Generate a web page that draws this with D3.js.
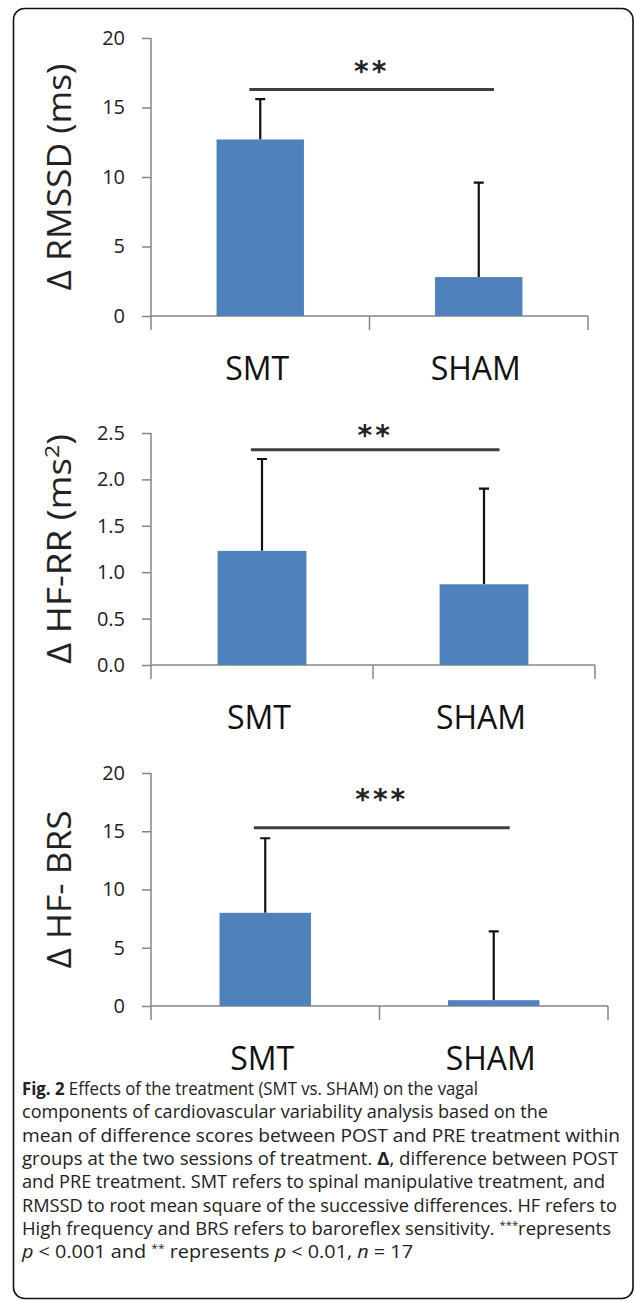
<!DOCTYPE html>
<html>
<head>
<meta charset="utf-8">
<script src="https://cdn.jsdelivr.net/npm/d3@7"></script>
<style>
  body { margin: 0; background: #fff; }
  svg { display: block; }
  .tick text { font-family: "Open Sans", sans-serif; }
</style>
</head>
<body>
<div id="chart"></div>
<script>
const groups = ["SMT", "SHAM"];

const rmssdMean = [12.7, 2.8];
const rmssdErr = [2.9, 6.8];
const hfrrMean = [1.23, 0.87];
const hfrrErr = [0.99, 1.03];
const brsMean = [8.0, 0.5];
const brsErr = [6.4, 5.9];

const rmssdTicks = [0, 5, 10, 15, 20];
const hfrrTicks = [0, 0.5, 1.0, 1.5, 2.0, 2.5];
const brsTicks = [0, 5, 10, 15, 20];

const stars = ["**", "**", "***"];
const sigLevel = [16.3, 2.32, 15.3];

const width = 634;
const height = 1301;

const svg = d3
  .select("#chart")
  .append("svg")
  .attr("width", width)
  .attr("height", height);

// rounded frame round the figure
svg
  .append("rect")
  .attr("x", 13.5)
  .attr("y", 8.5)
  .attr("width", 619.5)
  .attr("height", 1290)
  .attr("rx", 11)
  .attr("fill", "none")
  .attr("stroke", "#111")
  .attr("stroke-width", 1.6);

const panels = [
  {
    mean: rmssdMean, err: rmssdErr, ticks: rmssdTicks, max: 20, fmt: d3.format("d"),
    top: 38, bottom: 316, left: 151, right: 588,
    label: ["Δ RMSSD (ms)"], labelLen: 227, labelX: 60,
    star: stars[0], sig: sigLevel[0], starGap: 24,
  },
  {
    mean: hfrrMean, err: hfrrErr, ticks: hfrrTicks, max: 2.5, fmt: d3.format(".1f"),
    top: 433, bottom: 665, left: 151, right: 595,
    label: ["Δ HF-RR  (ms", "2", ")"], labelLen: 230, labelX: 60,
    star: stars[1], sig: sigLevel[1], starGap: 21,
  },
  {
    mean: brsMean, err: brsErr, ticks: brsTicks, max: 20, fmt: d3.format("d"),
    top: 773, bottom: 1006, left: 151, right: 608,
    label: ["Δ HF- BRS"], labelLen: 158, labelX: 60,
    star: stars[2], sig: sigLevel[2], starGap: 35,
  },
];

const barColor = "#4f81bd";
const axisColor = "#868686";

panels.forEach((p) => {
  const g = svg.append("g");

  const x = d3.scaleBand().domain(groups).range([p.left, p.right]);
  const y = d3.scaleLinear().domain([0, p.max]).range([p.bottom, p.top]);
  const bw = x.bandwidth();
  const barW = bw * 0.4;

  // y axis
  const yAxis = g
    .append("g")
    .attr("transform", `translate(${p.left},0)`)
    .call(d3.axisLeft(y).tickValues(p.ticks).tickFormat(p.fmt).tickSize(9).tickPadding(17));
  yAxis.select(".domain").remove();
  yAxis.selectAll(".tick line").attr("stroke", axisColor).attr("stroke-width", 1.5);
  yAxis
    .selectAll(".tick text")
    .attr("fill", "#222")
    .style("font-size", "20px");
  g.append("line")
    .attr("x1", p.left)
    .attr("x2", p.left)
    .attr("y1", p.top)
    .attr("y2", p.bottom + 14)
    .attr("stroke", axisColor)
    .attr("stroke-width", 1.5);

  // x axis
  g.append("line")
    .attr("x1", p.left)
    .attr("x2", p.right)
    .attr("y1", p.bottom)
    .attr("y2", p.bottom)
    .attr("stroke", axisColor)
    .attr("stroke-width", 1.5);
  g.selectAll(".xtick")
    .data(groups)
    .enter()
    .append("line")
    .attr("x1", (d) => x(d) + bw)
    .attr("x2", (d) => x(d) + bw)
    .attr("y1", p.bottom)
    .attr("y2", p.bottom + 14)
    .attr("stroke", axisColor)
    .attr("stroke-width", 1.5);

  g.selectAll(".xlabel")
    .data(groups)
    .enter()
    .append("text")
    .attr("x", (d) => x(d) + bw / 2 - 3)
    .attr("y", p.bottom + 64)
    .attr("text-anchor", "middle")
    .attr("font-family", "Open Sans, sans-serif")
    .attr("font-size", 32)
    .attr("fill", "#111")
    .text((d) => d);

  // error bars (upper only) drawn first, bar drawn on top
  g.selectAll(".err")
    .data(groups)
    .enter()
    .append("path")
    .attr("d", (d, i) => {
      const cx = x(d) + bw / 2;
      const y0 = y(p.mean[i]);
      const y1 = y(p.mean[i] + p.err[i]);
      return `M${cx},${y0}V${y1}M${cx - 5},${y1}H${cx + 5}`;
    })
    .attr("fill", "none")
    .attr("stroke", "#111")
    .attr("stroke-width", 2.2);

  g.selectAll(".bar")
    .data(groups)
    .enter()
    .append("rect")
    .attr("x", (d) => x(d) + (bw - barW) / 2)
    .attr("width", barW)
    .attr("y", (d, i) => y(p.mean[i]))
    .attr("height", (d, i) => y(0) - y(p.mean[i]))
    .attr("fill", barColor);

  // significance bar
  const sx1 = x(groups[0]) + bw * 0.45;
  const sx2 = x(groups[1]) + bw * 0.57;
  const sy = y(p.sig);
  g.append("line")
    .attr("x1", sx1)
    .attr("x2", sx2)
    .attr("y1", sy)
    .attr("y2", sy)
    .attr("stroke", "#404040")
    .attr("stroke-width", 3);
  g.append("text")
    .attr("x", (sx1 + sx2) / 2)
    .attr("y", sy - p.starGap + 16)
    .attr("text-anchor", "middle")
    .attr("font-family", "DejaVu Sans, sans-serif")
    .attr("font-weight", "bold")
    .attr("font-size", 28)
    .attr("letter-spacing", 3)
    .attr("fill", "#222")
    .text(p.star);

  // y label
  const lab = g
    .append("text")
    .attr("transform", `translate(${p.labelX},${(p.top + p.bottom) / 2}) rotate(-90)`)
    .attr("text-anchor", "middle")
    .attr("dy", "0.35em")
    .attr("font-family", "Open Sans, sans-serif")
    .attr("font-size", 32)
    .attr("fill", "#222");
  lab.append("tspan").text(p.label[0]);
  if (p.label.length > 1) {
    lab.append("tspan").attr("font-size", 20).attr("dy", -12).text(p.label[1]);
    lab.append("tspan").attr("dy", 12).text(p.label[2]);
  }
  lab.attr("textLength", p.labelLen).attr("lengthAdjust", "spacingAndGlyphs");
});

// caption
const captionLines = [
  [{ t: "Fig. 2", b: true }, { t: " Effects of the treatment (SMT vs. SHAM) on the vagal" }],
  [{ t: "components of cardiovascular variability analysis based on the" }],
  [{ t: "mean of difference scores between POST and PRE treatment within" }],
  [{ t: "groups at the two sessions of treatment. " }, { t: "Δ", b: true }, { t: ", difference between POST" }],
  [{ t: "and PRE treatment. SMT refers to spinal manipulative treatment, and" }],
  [{ t: "RMSSD to root mean square of the successive differences. HF refers to" }],
  [{ t: "High frequency and BRS refers to baroreflex sensitivity. " }, { t: "***", sup: true }, { t: "represents" }],
  [{ t: "p", i: true }, { t: " < 0.001 and " }, { t: "**", sup: true }, { t: " represents " }, { t: "p", i: true }, { t: " < 0.01, " }, { t: "n", i: true }, { t: " = 17" }],
];
// line lengths as set in the reference (ragged right)
const captionWidths = [456, 526, 598, 596, 583, 595, 589, 391];

const cap = svg
  .append("g")
  .attr("font-family", "Open Sans, sans-serif")
  .attr("font-size", 18)
  .attr("fill", "#222");

captionLines.forEach((line, li) => {
  const txt = cap
    .append("text")
    .attr("x", 22)
    .attr("y", 1095 + li * 23.3)
    .attr("textLength", captionWidths[li])
    .attr("lengthAdjust", "spacingAndGlyphs");
  line.forEach((s) => {
    const ts = txt.append("tspan").text(s.t);
    if (s.b) ts.attr("font-weight", "bold");
    if (s.i) ts.attr("font-style", "italic");
    if (s.sup) ts.attr("font-size", 11).attr("baseline-shift", "6");
  });
});
</script>
</body>
</html>
